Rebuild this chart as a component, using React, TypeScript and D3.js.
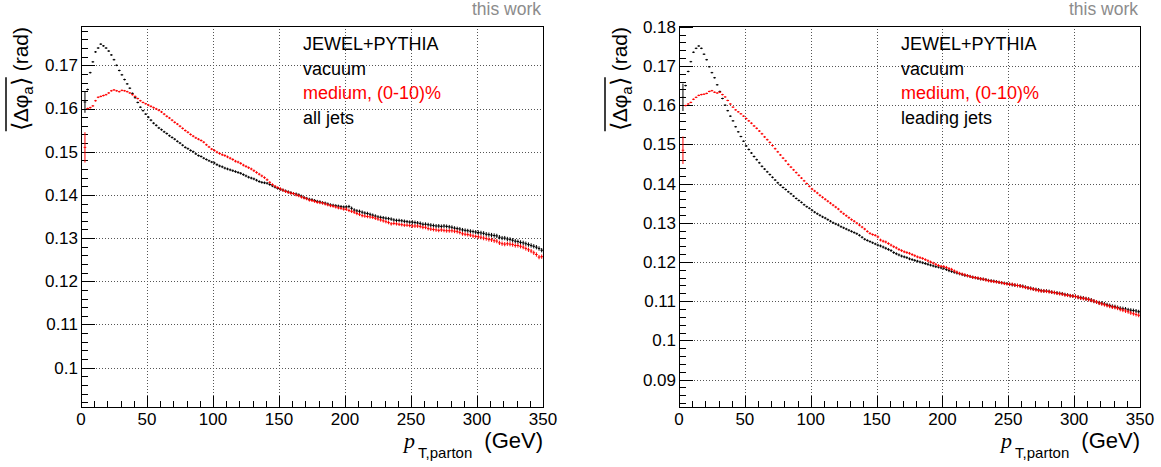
import React, { useEffect, useRef } from 'react';
import * as d3 from 'd3';

// ---------- data ----------
// 2 GeV bins, centres 3,5,...,349 GeV (first bin 0-2 GeV is empty)
const binCenters: number[] = d3.range(3, 350, 2);

const allVacuum = [
  0.1615, 0.1644, 0.1683, 0.1708, 0.1731, 0.1740, 0.1749, 0.1745, 0.1740, 0.1733,
  0.1724, 0.1713, 0.1700, 0.1688, 0.1678, 0.1667, 0.1657, 0.1647, 0.1635, 0.1625,
  0.1614, 0.1603, 0.1595, 0.1587, 0.1580, 0.1573, 0.1566, 0.1561, 0.1555, 0.1551,
  0.1546, 0.1542, 0.1537, 0.1533, 0.1529, 0.1524, 0.1520, 0.1515, 0.1510, 0.1507,
  0.1503, 0.1500, 0.1495, 0.1491, 0.1489, 0.1485, 0.1482, 0.1479, 0.1476, 0.1474,
  0.1470, 0.1467, 0.1465, 0.1462, 0.1460, 0.1458, 0.1456, 0.1454, 0.1452, 0.1450,
  0.1447, 0.1444, 0.1441, 0.1439, 0.1437, 0.1434, 0.1431, 0.1429, 0.1428, 0.1427,
  0.1424, 0.1421, 0.1418, 0.1415, 0.1413, 0.1411, 0.1409, 0.1407, 0.1405, 0.1403,
  0.1402, 0.1400, 0.1397, 0.1394, 0.1392, 0.1390, 0.1389, 0.1387, 0.1385, 0.1384,
  0.1382, 0.1381, 0.1379, 0.1377, 0.1376, 0.1375, 0.1374, 0.1373, 0.1372, 0.1372,
  0.1373, 0.1369, 0.1365, 0.1363, 0.1362, 0.1360, 0.1358, 0.1357, 0.1355, 0.1353,
  0.1351, 0.1349, 0.1348, 0.1347, 0.1346, 0.1345, 0.1344, 0.1342, 0.1341, 0.1341,
  0.1340, 0.1339, 0.1338, 0.1337, 0.1337, 0.1336, 0.1335, 0.1334, 0.1332, 0.1332,
  0.1331, 0.1330, 0.1329, 0.1328, 0.1328, 0.1327, 0.1328, 0.1327, 0.1326, 0.1325,
  0.1323, 0.1322, 0.1321, 0.1319, 0.1318, 0.1317, 0.1316, 0.1315, 0.1314, 0.1313,
  0.1312, 0.1311, 0.1309, 0.1308, 0.1307, 0.1306, 0.1305, 0.1302, 0.1300, 0.1300,
  0.1298, 0.1297, 0.1295, 0.1293, 0.1292, 0.1290, 0.1289, 0.1287, 0.1285, 0.1283,
  0.1281, 0.1279, 0.1276, 0.1272,
];

const allMedium = [
  0.1510, 0.1600, 0.1602, 0.1606, 0.1618, 0.1626, 0.1628, 0.1630, 0.1632, 0.1636,
  0.1641, 0.1643, 0.1641, 0.1639, 0.1642, 0.1641, 0.1639, 0.1636, 0.1632, 0.1628,
  0.1623, 0.1618, 0.1614, 0.1611, 0.1608, 0.1605, 0.1602, 0.1599, 0.1596, 0.1592,
  0.1587, 0.1582, 0.1578, 0.1573, 0.1568, 0.1564, 0.1559, 0.1554, 0.1549, 0.1545,
  0.1540, 0.1536, 0.1532, 0.1529, 0.1526, 0.1522, 0.1516, 0.1511, 0.1506, 0.1503,
  0.1499, 0.1496, 0.1493, 0.1491, 0.1488, 0.1485, 0.1482, 0.1478, 0.1476, 0.1473,
  0.1469, 0.1466, 0.1463, 0.1460, 0.1456, 0.1452, 0.1448, 0.1444, 0.1440, 0.1435,
  0.1429, 0.1424, 0.1420, 0.1417, 0.1414, 0.1411, 0.1408, 0.1406, 0.1404, 0.1403,
  0.1400, 0.1398, 0.1395, 0.1393, 0.1391, 0.1388, 0.1387, 0.1385, 0.1383, 0.1382,
  0.1381, 0.1379, 0.1377, 0.1375, 0.1374, 0.1372, 0.1370, 0.1369, 0.1367, 0.1367,
  0.1364, 0.1362, 0.1360, 0.1357, 0.1355, 0.1352, 0.1351, 0.1350, 0.1349, 0.1348,
  0.1346, 0.1344, 0.1342, 0.1340, 0.1338, 0.1336, 0.1333, 0.1334, 0.1333, 0.1332,
  0.1331, 0.1330, 0.1330, 0.1329, 0.1328, 0.1328, 0.1328, 0.1327, 0.1325, 0.1325,
  0.1322, 0.1321, 0.1320, 0.1319, 0.1318, 0.1319, 0.1318, 0.1317, 0.1317, 0.1317,
  0.1316, 0.1315, 0.1313, 0.1310, 0.1309, 0.1308, 0.1307, 0.1305, 0.1304, 0.1303,
  0.1302, 0.1300, 0.1299, 0.1297, 0.1296, 0.1294, 0.1293, 0.1289, 0.1287, 0.1286,
  0.1287, 0.1286, 0.1285, 0.1283, 0.1283, 0.1281, 0.1279, 0.1276, 0.1273, 0.1270,
  0.1266, 0.1262, 0.1256, 0.1257,
];

const leadingVacuum = [
  0.1620, 0.1650, 0.1686, 0.1711, 0.1735, 0.1745, 0.1751, 0.1745, 0.1730, 0.1716,
  0.1698, 0.1683, 0.1670, 0.1652, 0.1635, 0.1617, 0.1600, 0.1586, 0.1572, 0.1560,
  0.1545, 0.1532, 0.1520, 0.1508, 0.1496, 0.1487, 0.1478, 0.1469, 0.1461, 0.1453,
  0.1444, 0.1437, 0.1430, 0.1423, 0.1416, 0.1409, 0.1402, 0.1396, 0.1390, 0.1385,
  0.1379, 0.1374, 0.1368, 0.1362, 0.1357, 0.1352, 0.1346, 0.1341, 0.1337, 0.1332,
  0.1327, 0.1323, 0.1319, 0.1315, 0.1312, 0.1308, 0.1304, 0.1300, 0.1297, 0.1294,
  0.1290, 0.1287, 0.1284, 0.1281, 0.1278, 0.1275, 0.1272, 0.1268, 0.1263, 0.1258,
  0.1255, 0.1252, 0.1249, 0.1246, 0.1243, 0.1241, 0.1238, 0.1235, 0.1232, 0.1229,
  0.1224, 0.1221, 0.1218, 0.1215, 0.1213, 0.1211, 0.1208, 0.1206, 0.1204, 0.1202,
  0.1200, 0.1198, 0.1196, 0.1194, 0.1192, 0.1190, 0.1188, 0.1187, 0.1185, 0.1184,
  0.1181, 0.1178, 0.1176, 0.1174, 0.1172, 0.1170, 0.1168, 0.1166, 0.1165, 0.1163,
  0.1161, 0.1160, 0.1158, 0.1157, 0.1156, 0.1155, 0.1153, 0.1152, 0.1151, 0.1150,
  0.1148, 0.1147, 0.1146, 0.1145, 0.1143, 0.1142, 0.1141, 0.1140, 0.1139, 0.1138,
  0.1136, 0.1134, 0.1133, 0.1131, 0.1130, 0.1129, 0.1127, 0.1126, 0.1126, 0.1125,
  0.1123, 0.1122, 0.1121, 0.1120, 0.1119, 0.1117, 0.1116, 0.1114, 0.1113, 0.1112,
  0.1110, 0.1109, 0.1108, 0.1106, 0.1105, 0.1103, 0.1100, 0.1098, 0.1096, 0.1095,
  0.1093, 0.1091, 0.1089, 0.1087, 0.1086, 0.1084, 0.1082, 0.1081, 0.1080, 0.1078,
  0.1077, 0.1076, 0.1075, 0.1073,
];

const leadingMedium = [
  0.1485, 0.1599, 0.1603, 0.1607, 0.1615, 0.1620, 0.1625, 0.1627, 0.1628, 0.1630,
  0.1635, 0.1637, 0.1633, 0.1631, 0.1633, 0.1627, 0.1621, 0.1612, 0.1603, 0.1595,
  0.1588, 0.1583, 0.1578, 0.1572, 0.1566, 0.1560, 0.1554, 0.1547, 0.1541, 0.1534,
  0.1527, 0.1519, 0.1512, 0.1505, 0.1497, 0.1489, 0.1481, 0.1473, 0.1465, 0.1458,
  0.1449, 0.1442, 0.1435, 0.1428, 0.1421, 0.1414, 0.1407, 0.1400, 0.1393, 0.1386,
  0.1381, 0.1376, 0.1370, 0.1365, 0.1360, 0.1355, 0.1350, 0.1345, 0.1340, 0.1335,
  0.1328, 0.1323, 0.1318, 0.1313, 0.1308, 0.1304, 0.1299, 0.1294, 0.1289, 0.1284,
  0.1278, 0.1273, 0.1270, 0.1268, 0.1264, 0.1256, 0.1253, 0.1251, 0.1247, 0.1243,
  0.1239, 0.1236, 0.1232, 0.1229, 0.1226, 0.1224, 0.1222, 0.1219, 0.1216, 0.1213,
  0.1211, 0.1209, 0.1206, 0.1203, 0.1200, 0.1197, 0.1194, 0.1191, 0.1189, 0.1188,
  0.1186, 0.1183, 0.1181, 0.1177, 0.1174, 0.1171, 0.1169, 0.1167, 0.1165, 0.1163,
  0.1161, 0.1160, 0.1159, 0.1157, 0.1156, 0.1154, 0.1152, 0.1151, 0.1150, 0.1149,
  0.1148, 0.1147, 0.1145, 0.1144, 0.1143, 0.1143, 0.1141, 0.1140, 0.1139, 0.1137,
  0.1135, 0.1134, 0.1132, 0.1131, 0.1129, 0.1127, 0.1126, 0.1126, 0.1125, 0.1124,
  0.1123, 0.1122, 0.1120, 0.1119, 0.1118, 0.1116, 0.1115, 0.1114, 0.1113, 0.1112,
  0.1110, 0.1108, 0.1107, 0.1106, 0.1104, 0.1102, 0.1100, 0.1098, 0.1095, 0.1093,
  0.1091, 0.1089, 0.1087, 0.1085, 0.1084, 0.1082, 0.1079, 0.1077, 0.1075, 0.1073,
  0.1070, 0.1068, 0.1066, 0.1064,
];

// statistical uncertainty per 50 GeV segment (first bin has its own)
const errBySegment = [0.0002, 0.00025, 0.0003, 0.00035, 0.0004, 0.00045, 0.0005];

const xMajorTicks = [0, 50, 100, 150, 200, 250, 300, 350];
const yTicksLeft = [0.1, 0.11, 0.12, 0.13, 0.14, 0.15, 0.16, 0.17];
const yTicksRight = [0.09, 0.1, 0.11, 0.12, 0.13, 0.14, 0.15, 0.16, 0.17, 0.18];

const legendTitle = 'JEWEL+PYTHIA';
const legendVacuum = 'vacuum';
const legendMedium = 'medium, (0-10)%';
const jetLabels = ['all jets', 'leading jets'];
const watermark = 'this work';

// ---------- layout ----------
const W = 1161;
const H = 467;
const TOP = 26;
const BOTTOM = 407;
const FONT = "'Liberation Sans', Arial, Helvetica, sans-serif";
const RED = '#ff0000';

interface Panel {
  left: number;
  right: number;
  yDomain: [number, number];
  yTicks: number[];
  vac: number[];
  med: number[];
  vacFirstErr: number;
  medFirstErr: number;
  label: string;
  titleX: number;
}

const panels: Panel[] = [
  {
    left: 81, right: 543, yDomain: [0.0909, 0.1791], yTicks: yTicksLeft,
    vac: allVacuum, med: allMedium, vacFirstErr: 0.0025, medFirstErr: 0.0035,
    label: jetLabels[0], titleX: 28,
  },
  {
    left: 679, right: 1140, yDomain: [0.083, 0.1802], yTicks: yTicksRight,
    vac: leadingVacuum, med: leadingMedium, vacFirstErr: 0.0035, medFirstErr: 0.0035,
    label: jetLabels[1], titleX: 627,
  },
];

function fmt(v: number) {
  return String(parseFloat(v.toFixed(3)));
}

function drawPanel(svg: d3.Selection<SVGSVGElement, unknown, null, undefined>, p: Panel) {
  const x = d3.scaleLinear().domain([0, 350]).range([p.left, p.right]);
  const y = d3.scaleLinear().domain(p.yDomain).range([BOTTOM, TOP]);
  const g = svg.append('g');

  // grid
  const grid = g.append('g').attr('stroke', '#555').attr('stroke-width', 1).attr('stroke-dasharray', '1 2');
  xMajorTicks.filter((t) => t > 0 && t < 350).forEach((t) => {
    grid.append('line').attr('x1', Math.round(x(t)) + 0.5).attr('x2', Math.round(x(t)) + 0.5)
      .attr('y1', TOP).attr('y2', BOTTOM);
  });
  p.yTicks.filter((t) => y(t) > TOP + 1).forEach((t) => {
    grid.append('line').attr('y1', Math.round(y(t)) + 0.5).attr('y2', Math.round(y(t)) + 0.5)
      .attr('x1', p.left).attr('x2', p.right);
  });

  // ticks
  const ticks = g.append('g').attr('stroke', '#000').attr('stroke-width', 1);
  d3.range(0, 351, 10).forEach((t) => {
    const major = t % 50 === 0;
    const xx = Math.round(x(t)) + 0.5;
    ticks.append('line').attr('x1', xx).attr('x2', xx).attr('y1', BOTTOM).attr('y2', BOTTOM - (major ? 11 : 6));
  });
  const yMinorStart = Math.ceil(p.yDomain[0] / 0.002 - 1e-6) * 0.002;
  d3.range(yMinorStart, p.yDomain[1] + 1e-9, 0.002).forEach((t) => {
    const major = p.yTicks.some((m) => Math.abs(m - t) < 1e-6);
    const yy = Math.round(y(t)) + 0.5;
    ticks.append('line').attr('x1', p.left).attr('x2', p.left + (major ? 14 : 7)).attr('y1', yy).attr('y2', yy);
  });

  // tick labels
  const lab = g.append('g').attr('font-family', FONT).attr('font-size', 17).attr('fill', '#000');
  xMajorTicks.forEach((t) => {
    lab.append('text').attr('x', x(t)).attr('y', 425).attr('text-anchor', 'middle').text(String(t));
  });
  p.yTicks.forEach((t) => {
    lab.append('text').attr('x', p.left - 3).attr('y', y(t)).attr('dy', '0.35em')
      .attr('text-anchor', 'end').text(fmt(t));
  });

  // data: error-bar crosses
  const series = [
    { values: p.vac, color: '#000', firstErr: p.vacFirstErr },
    { values: p.med, color: RED, firstErr: p.medFirstErr },
  ];
  series.forEach((s) => {
    let d = '';
    s.values.forEach((v, i) => {
      const c = binCenters[i];
      const e = i === 0 ? s.firstErr : errBySegment[Math.min(errBySegment.length - 1, Math.floor(c / 50))];
      d += `M${x(c - 1)},${y(v)}H${x(c + 1)}M${x(c)},${y(v - e)}V${y(v + e)}`;
    });
    g.append('path').attr('d', d).attr('fill', 'none').attr('stroke', s.color).attr('stroke-width', 1);
  });

  // frame
  g.append('rect').attr('x', p.left + 0.5).attr('y', TOP + 0.5)
    .attr('width', p.right - p.left).attr('height', BOTTOM - TOP)
    .attr('fill', 'none').attr('stroke', '#000').attr('stroke-width', 1);

  // legend text
  const leg = g.append('g').attr('font-family', FONT).attr('font-size', 18);
  const lx = p.left + 222;
  leg.append('text').attr('x', lx).attr('y', 50).attr('fill', '#000').text(legendTitle);
  leg.append('text').attr('x', lx).attr('y', 74.5).attr('fill', '#000').text(legendVacuum);
  leg.append('text').attr('x', lx).attr('y', 99).attr('fill', RED).text(legendMedium);
  leg.append('text').attr('x', lx).attr('y', 123.5).attr('fill', '#000').text(p.label);

  // watermark
  g.append('text').attr('x', p.right - 2).attr('y', 15).attr('text-anchor', 'end')
    .attr('font-family', FONT).attr('font-size', 17.5).attr('fill', '#8c8c8c').text(watermark);

  // x axis title
  const xt = g.append('text').attr('x', p.right).attr('y', 448).attr('text-anchor', 'end')
    .attr('font-family', FONT).attr('fill', '#000');
  xt.append('tspan').attr('font-family', "'Liberation Serif', 'Times New Roman', serif")
    .attr('font-style', 'italic').attr('font-size', 22).text('p');
  xt.append('tspan').attr('font-size', 15).attr('dy', 10).attr('dx', 3).text('T,parton');
  xt.append('tspan').attr('font-size', 22).attr('dy', -10).attr('dx', 12).text('(GeV)');

  // y axis title (rotated), with overline over <Δφ_a>
  const yt = g.append('g').attr('transform', `translate(${p.titleX},${TOP + 1}) rotate(-90)`)
    .attr('font-family', FONT).attr('font-size', 21).attr('fill', '#000');
  const rad = yt.append('text').attr('x', 0).attr('y', 0).attr('text-anchor', 'end').text('(rad)');
  const radW = (rad.node() as SVGTextElement).getComputedTextLength();
  const main = yt.append('text').attr('x', -radW - 6).attr('y', 0).attr('text-anchor', 'end');
  main.append('tspan').attr('font-size', 24).attr('dy', 1).text('⟨');
  main.append('tspan').attr('dy', -1).text('Δφ');
  main.append('tspan').attr('font-size', 15).attr('dy', 5).text('a');
  main.append('tspan').attr('font-size', 24).attr('dy', -4).text('⟩');
  const bb = (main.node() as SVGTextElement).getBBox();
  yt.append('line').attr('x1', bb.x).attr('x2', bb.x + bb.width)
    .attr('y1', bb.y - 1).attr('y2', bb.y - 1).attr('stroke', '#000').attr('stroke-width', 1.5);
}

export default function App() {
  const ref = useRef<SVGSVGElement>(null);
  useEffect(() => {
    if (!ref.current) return;
    const svg = d3.select(ref.current);
    svg.selectAll('*').remove();
    svg.append('rect').attr('width', W).attr('height', H).attr('fill', '#fff');
    panels.forEach((p) => drawPanel(svg, p));
  }, []);
  return (
    <svg
      ref={ref}
      width={W}
      height={H}
      style={{ position: 'absolute', left: 0, top: 0, display: 'block' }}
    />
  );
}
